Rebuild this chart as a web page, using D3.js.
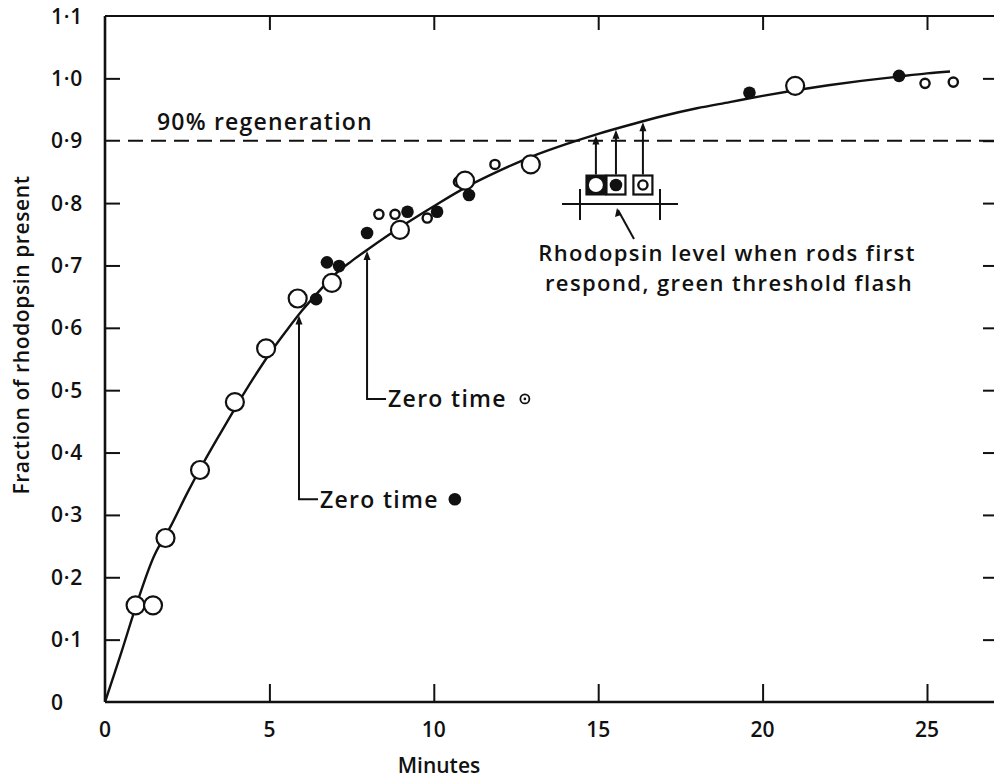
<!DOCTYPE html>
<html><head><meta charset="utf-8">
<script src="https://cdn.jsdelivr.net/npm/d3@7/dist/d3.min.js"></script>
<style>
html,body{margin:0;padding:0;background:#fff;}
svg{display:block;}
text{font-family:"Open Sans",Lato,sans-serif;font-weight:600;fill:#111;}
</style></head>
<body>
<script>
// ---- data ----
const xTicks = [0, 5, 10, 15, 20, 25];
const yTicks = [0, 0.1, 0.2, 0.3, 0.4, 0.5, 0.6, 0.7, 0.8, 0.9, 1.0, 1.1];
const yTickLabels = ["0","0·1","0·2","0·3","0·4","0·5","0·6","0·7","0·8","0·9","1·0","1·1"];

// fitted curve
const curveT = [0, 0.5, 1, 1.5, 2, 2.5, 3, 3.5, 4, 4.5, 5, 5.5, 6, 6.5, 7, 7.5, 8, 9, 10, 11, 12, 13, 14, 15, 16, 17, 18, 19, 20, 21, 22, 23, 24, 25, 25.7];
const curveY = [0, 0.08, 0.163, 0.235, 0.282, 0.335, 0.384, 0.43, 0.475, 0.518, 0.558, 0.594, 0.628, 0.658, 0.686, 0.707, 0.726, 0.762, 0.795, 0.826, 0.852, 0.875, 0.894, 0.911, 0.926, 0.94, 0.952, 0.962, 0.972, 0.981, 0.989, 0.996, 1.002, 1.008, 1.011];

// large open circles
const openT = [0.93, 1.46, 1.84, 2.89, 3.95, 4.9, 5.86, 6.9, 8.97, 10.95, 12.95, 20.99];
const openY = [0.155, 0.155, 0.263, 0.372, 0.481, 0.567, 0.647, 0.672, 0.757, 0.836, 0.862, 0.988];
// filled dots
const filledT = [6.42, 6.75, 7.12, 7.97, 9.2, 10.1, 11.07, 19.6, 24.15];
const filledY = [0.646, 0.705, 0.699, 0.752, 0.786, 0.786, 0.813, 0.977, 1.004];
// small open circles
const smallT = [8.33, 8.82, 9.8, 10.75, 11.86, 24.94, 25.8];
const smallY = [0.782, 0.782, 0.776, 0.834, 0.862, 0.992, 0.994];

// rod threshold levels (time at which curve reached them)
const rodT = [14.93, 15.54, 16.36];
const rodKind = ["open", "filled", "small"];

// zero-time annotations
const zeroT = [5.9, 7.97];
const zeroLabelY = [0.325, 0.486];
const zeroMarkT = [10.64, 12.77];
const zeroKind = ["filled", "dotted"];

// ---- drawing ----
const W = 994, H = 778;
const svg = d3.select("body").append("svg").attr("width", W).attr("height", H);
const x = d3.scaleLinear().domain([0, 25]).range([105, 927]);
const y = d3.scaleLinear().domain([0, 1.1]).range([702, 16]);
const xRight = 996;

const g = svg.append("g");

// frame
g.append("line").attr("x1", x(0)).attr("x2", xRight).attr("y1", y(0)).attr("y2", y(0)).attr("stroke", "#111").attr("stroke-width", 2.6);
g.append("line").attr("x1", x(0)).attr("x2", x(0)).attr("y1", y(0)).attr("y2", y(1.1)).attr("stroke", "#111").attr("stroke-width", 2.6);
g.append("line").attr("x1", x(0)).attr("x2", xRight).attr("y1", y(1.1)).attr("y2", y(1.1)).attr("stroke", "#111").attr("stroke-width", 2);

// y ticks left (inward)
const yAxis = d3.axisRight(y).tickValues(yTicks.filter(v => v > 0 && v < 1.1 && Math.abs(v - 0.9) > 1e-6)).tickSize(15).tickFormat("");
g.append("g").attr("transform", `translate(${x(0)},0)`).call(yAxis)
  .call(s => { s.select(".domain").remove(); s.selectAll("line").attr("stroke", "#111").attr("stroke-width", 2); });
// y ticks right (inward)
const yAxisR = d3.axisLeft(y).tickValues(yTicks.filter(v => v > 0 && v < 1.1)).tickSize(13).tickFormat("");
g.append("g").attr("transform", `translate(${xRight},0)`).call(yAxisR)
  .call(s => { s.select(".domain").remove(); s.selectAll("line").attr("stroke", "#111").attr("stroke-width", 2); });
// y tick labels
g.selectAll(".ylab").data(yTicks).join("text").attr("class", "ylab")
  .attr("x", 51).attr("y", d => y(d)).attr("dy", "0.36em")
  .attr("font-size", 21).attr("letter-spacing", 0.8).text((d, i) => yTickLabels[i]);

// x ticks bottom (inward)
const xAxis = d3.axisTop(x).tickValues(xTicks.filter(v => v > 0)).tickSize(18).tickFormat("");
g.append("g").attr("transform", `translate(0,${y(0)})`).call(xAxis)
  .call(s => { s.select(".domain").remove(); s.selectAll("line").attr("stroke", "#111").attr("stroke-width", 2); });
// x ticks top (inward)
const xAxisT = d3.axisBottom(x).tickValues(xTicks.filter(v => v > 0)).tickSize(14).tickFormat("");
g.append("g").attr("transform", `translate(0,${y(1.1)})`).call(xAxisT)
  .call(s => { s.select(".domain").remove(); s.selectAll("line").attr("stroke", "#111").attr("stroke-width", 2); });
g.selectAll(".xlab").data(xTicks).join("text").attr("class", "xlab")
  .attr("x", d => x(d)).attr("y", 729).attr("dy", "0.36em").attr("text-anchor", "middle")
  .attr("font-size", 21).text(d => d);

// axis titles
svg.append("text").attr("x", 439).attr("y", 773).attr("text-anchor", "middle").attr("font-size", 21).text("Minutes");
svg.append("text").attr("transform", "translate(29,335) rotate(-90)").attr("text-anchor", "middle")
  .attr("font-size", 21).attr("letter-spacing", 0.6).text("Fraction of rhodopsin present");

// 90% line
g.append("line").attr("x1", x(0)).attr("x2", xRight).attr("y1", y(0.9)).attr("y2", y(0.9))
  .attr("stroke", "#111").attr("stroke-width", 2).attr("stroke-dasharray", "15,8");
svg.append("text").attr("x", 157).attr("y", 130).attr("font-size", 23).attr("letter-spacing", 1.2).text("90% regeneration");

// curve
const curvePts = curveT.map((t, i) => [t, curveY[i]]);
g.append("path").datum(curvePts)
  .attr("d", d3.line().x(d => x(d[0])).y(d => y(d[1])).curve(d3.curveCatmullRom.alpha(0.5)))
  .attr("fill", "none").attr("stroke", "#111").attr("stroke-width", 2.4);

function curveAt(t) {
  const i = d3.bisectRight(curveT, t) - 1;
  const j = Math.min(i + 1, curveT.length - 1);
  const f = (t - curveT[i]) / ((curveT[j] - curveT[i]) || 1);
  return curveY[i] + f * (curveY[j] - curveY[i]);
}

function marker(sel, kind, cx, cy) {
  if (kind === "open") {
    sel.append("circle").attr("cx", cx).attr("cy", cy).attr("r", 9).attr("fill", "#fff").attr("stroke", "#111").attr("stroke-width", 2.2);
  } else if (kind === "filled") {
    sel.append("circle").attr("cx", cx).attr("cy", cy).attr("r", 6.3).attr("fill", "#111");
  } else if (kind === "small") {
    sel.append("circle").attr("cx", cx).attr("cy", cy).attr("r", 4.6).attr("fill", "#fff").attr("stroke", "#111").attr("stroke-width", 2.4);
  } else if (kind === "dotted") {
    sel.append("circle").attr("cx", cx).attr("cy", cy).attr("r", 4.5).attr("fill", "#fff").attr("stroke", "#111").attr("stroke-width", 1.8);
    sel.append("circle").attr("cx", cx).attr("cy", cy).attr("r", 1.3).attr("fill", "#111");
  }
}

const pts = g.append("g");
smallT.forEach((t, i) => marker(pts, "small", x(t), y(smallY[i])));
openT.forEach((t, i) => marker(pts, "open", x(t), y(openY[i])));
filledT.forEach((t, i) => marker(pts, "filled", x(t), y(filledY[i])));

// arrowhead helper
function arrowUp(sel, ax, ay) {
  sel.append("path").attr("d", `M${ax},${ay} L${ax - 3.5},${ay + 9} L${ax + 3.5},${ay + 9} Z`).attr("fill", "#111");
}

// zero time annotations
const ann = g.append("g");
zeroT.forEach((t, i) => {
  const xx = x(t), yb = y(zeroLabelY[i]), yt = y(curveAt(t));
  ann.append("path").attr("d", `M${xx + 19},${yb} L${xx},${yb} L${xx},${yt + 4}`)
    .attr("fill", "none").attr("stroke", "#111").attr("stroke-width", 2);
  arrowUp(ann, xx, yt + 1);
  ann.append("text").attr("x", xx + 21).attr("y", yb).attr("dy", "0.36em").attr("font-size", 23)
    .attr("letter-spacing", 1.3).text("Zero time");
  marker(ann, zeroKind[i], x(zeroMarkT[i]), yb);
});

// rod threshold boxes
const boxY = 0.829, bs = 21;
const leg = g.append("g");
rodT.forEach((t, i) => {
  const cx = x(t), cy = y(boxY);
  const xt = y(curveAt(t));
  leg.append("line").attr("x1", cx).attr("x2", cx).attr("y1", cy - bs / 2).attr("y2", xt + 4).attr("stroke", "#111").attr("stroke-width", 2);
  arrowUp(leg, cx, xt + 1);
  if (rodKind[i] === "open") {
    leg.append("rect").attr("x", cx - bs / 2).attr("y", cy - bs / 2).attr("width", bs).attr("height", bs).attr("fill", "#111");
    leg.append("circle").attr("cx", cx).attr("cy", cy).attr("r", 7).attr("fill", "#fff");
  } else {
    leg.append("rect").attr("x", cx - bs / 2 + 1).attr("y", cy - bs / 2 + 1).attr("width", bs - 2).attr("height", bs - 2).attr("fill", "#fff").attr("stroke", "#111").attr("stroke-width", 2.2);
    marker(leg, rodKind[i], cx, cy);
  }
});
// bracket
const bY = y(boxY) + 19;
leg.append("line").attr("x1", 562).attr("x2", 678).attr("y1", bY).attr("y2", bY).attr("stroke", "#111").attr("stroke-width", 2);
[580, 660].forEach(v => leg.append("line").attr("x1", v).attr("x2", v).attr("y1", bY - 15).attr("y2", bY + 16).attr("stroke", "#111").attr("stroke-width", 2));
leg.append("line").attr("x1", 618).attr("y1", bY + 6).attr("x2", 634).attr("y2", bY + 35).attr("stroke", "#111").attr("stroke-width", 2);
leg.append("path").attr("d", `M617,${bY + 4} L615,${bY + 13} L621,${bY + 11} Z`).attr("fill", "#111");
svg.append("text").attr("x", 727).attr("y", 261).attr("text-anchor", "middle").attr("font-size", 22).attr("letter-spacing", 1.4).text("Rhodopsin level when rods first");
svg.append("text").attr("x", 729).attr("y", 291).attr("text-anchor", "middle").attr("font-size", 22).attr("letter-spacing", 1.4).text("respond, green threshold flash");
</script>
</body></html>
